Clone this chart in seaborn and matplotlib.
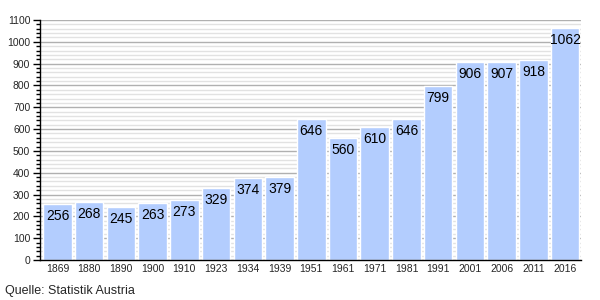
import matplotlib
matplotlib.use("Agg")
import matplotlib.pyplot as plt
import seaborn as sns
import pandas as pd
from matplotlib.ticker import MultipleLocator

years = ["1869", "1880", "1890", "1900", "1910", "1923", "1934", "1939", "1951", "1961",
         "1971", "1981", "1991", "2001", "2006", "2011", "2016"]
population = [256, 268, 245, 263, 273, 329, 374, 379, 646, 560, 610, 646, 799, 906, 907, 918, 1062]

df = pd.DataFrame({"year": years, "pop": population})

sns.set_theme(style="white")
plt.rcParams['font.family'] = ['Liberation Sans', 'DejaVu Sans']

fig = plt.figure(figsize=(6, 3), dpi=100)
ax = fig.add_axes([40/600, 40/300, 541/600, 240/300])

ax.yaxis.set_major_locator(MultipleLocator(100))
ax.yaxis.set_minor_locator(MultipleLocator(20))
ax.grid(which="major", axis="y", color="#b0b0b0", linewidth=1.0)
ax.grid(which="minor", axis="y", color="#e2e2e2", linewidth=1.0)
ax.set_axisbelow(True)

sns.barplot(data=df, x="year", y="pop", color="#b3cdfe", saturation=1, width=0.9, ax=ax)

for i, v in enumerate(population):
    ax.text(i, v - 12 * 1100 / 240, str(v), ha="center", va="center", fontsize=10, color="black")

ax.set_ylim(0, 1100)
ax.set_xlim(-0.55, 16.5)
ax.set_xlabel("")
ax.set_ylabel("")
for s in ["top", "right"]:
    ax.spines[s].set_visible(False)
ax.spines["left"].set_color("black")
ax.spines["bottom"].set_color("black")
ax.spines["left"].set_linewidth(1.0)
ax.spines["bottom"].set_linewidth(1.0)
ax.tick_params(axis="y", which="major", left=True, length=5, width=1, color="black", labelsize=7.5, pad=2)
ax.tick_params(axis="y", which="minor", left=True, length=3, width=1, color="black")
ax.tick_params(axis="x", bottom=False, length=0, labelsize=7.5, pad=3)

fig.text(5/600, 1 - 291/300, "Quelle: Statistik Austria", fontsize=9, va="center", ha="left")

fig.savefig("out.png", dpi=100)
